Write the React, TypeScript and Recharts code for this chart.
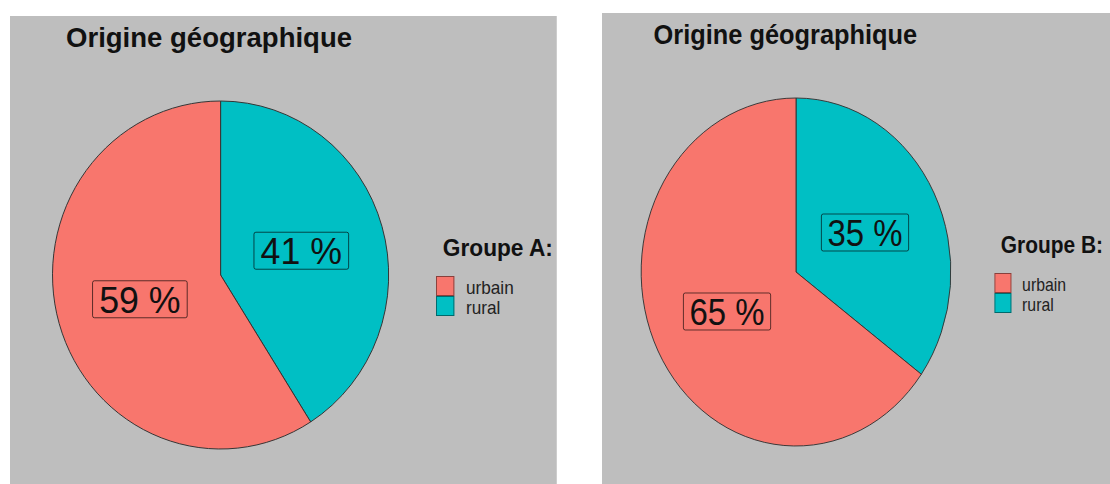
import { PieChart, Pie, Cell } from "recharts";

const categories = ["urbain", "rural"];
const colors = ["#F8766D", "#00BFC4"];
const groupA = [59, 41];
const groupB = [65, 35];
const chartTitle = "Origine géographique";
const groupLabels = ["Groupe A:", "Groupe B:"];

const FONT = '"Liberation Sans", Arial, sans-serif';
const RADIAN = Math.PI / 180;

// ggplot stacks the last level first, clockwise from 12 o'clock
function toPieData(values: number[]) {
  return categories
    .map((name, i) => ({ name, value: values[i], color: colors[i] }))
    .reverse();
}

function PctLabel(props: any) {
  const { cx, cy, midAngle, outerRadius, value, payload } = props;
  const r = outerRadius * 0.5;
  const x = cx + r * Math.cos(-midAngle * RADIAN);
  const y = cy + r * Math.sin(-midAngle * RADIAN);
  const w = 98;
  const h = 37;
  return (
    <g>
      <rect x={x - w / 2} y={y - h / 2} width={w} height={h} rx={2} fill={payload.color} stroke="rgba(0,0,0,0.65)" strokeWidth={1} />
      <text x={x} y={y + 13.5} textAnchor="middle" fontFamily={FONT} fontSize={37} fill="#111">
        {value} %
      </text>
    </g>
  );
}

interface PanelProps {
  values: number[];
  legendTitle: string;
  left: number;
  top: number;
  width: number;
  sx: number;
}

function Panel({ values, legendTitle, left, top, width, sx }: PanelProps) {
  const height = 484 - top;
  const data = toPieData(values);
  const labelSize = 17.8;
  const step = 20;
  const labelLine = 18;
  const labelOffset = (labelLine - 1.117 * labelSize) / 2 + 0.905 * labelSize;
  return (
    <div
      style={{
        position: "absolute",
        left,
        top,
        width,
        height,
        background: "#bebebe",
        transform: `scaleX(${sx})`,
        transformOrigin: "0 0",
        fontFamily: FONT,
        overflow: "hidden",
      }}
    >
      <div style={{ position: "absolute", left: 58, top: 31 - 0.905 * 28.5, fontSize: 28.5, fontWeight: "bold", color: "#111", whiteSpace: "nowrap", lineHeight: "normal" }}>
        {chartTitle}
      </div>
      <PieChart width={width} height={height} margin={{ top: 0, right: 0, bottom: 0, left: 0 }}>
        <Pie
          data={data}
          dataKey="value"
          nameKey="name"
          cx={218}
          cy={259}
          outerRadius={174}
          startAngle={90}
          endAngle={-270}
          stroke="#333"
          strokeWidth={1}
          labelLine={false}
          label={PctLabel}
          isAnimationActive={false}
        >
          {data.map((d) => (
            <Cell key={d.name} fill={d.color} />
          ))}
        </Pie>
      </PieChart>
      <div style={{ position: "absolute", left: 448, top: 240 - 0.905 * 23.5, fontSize: 23.5, fontWeight: "bold", color: "#111", whiteSpace: "nowrap", lineHeight: "normal" }}>
        {legendTitle}
      </div>
      {categories.map((c, i) => (
        <div key={c}>
          <div style={{ position: "absolute", left: 441, top: 260 + i * step, width: 19, height: step, boxSizing: "border-box", background: colors[i], border: "1px solid rgba(0,0,0,0.45)" }} />
          <div style={{ position: "absolute", left: 472, top: 278 + i * step - labelOffset, fontSize: labelSize, color: "#222", whiteSpace: "nowrap", lineHeight: `${labelLine}px`, height: labelLine }}>
            {c}
          </div>
        </div>
      ))}
    </div>
  );
}

export default function App() {
  return (
    <div style={{ position: "fixed", left: 0, top: 0, width: 1110, height: 484, background: "#fff", overflow: "hidden" }}>
      <Panel values={groupA} legendTitle={groupLabels[0]} left={10} top={16} width={566} sx={0.966} />
      <Panel values={groupB} legendTitle={groupLabels[1]} left={602} top={13} width={571} sx={0.89} />
    </div>
  );
}
